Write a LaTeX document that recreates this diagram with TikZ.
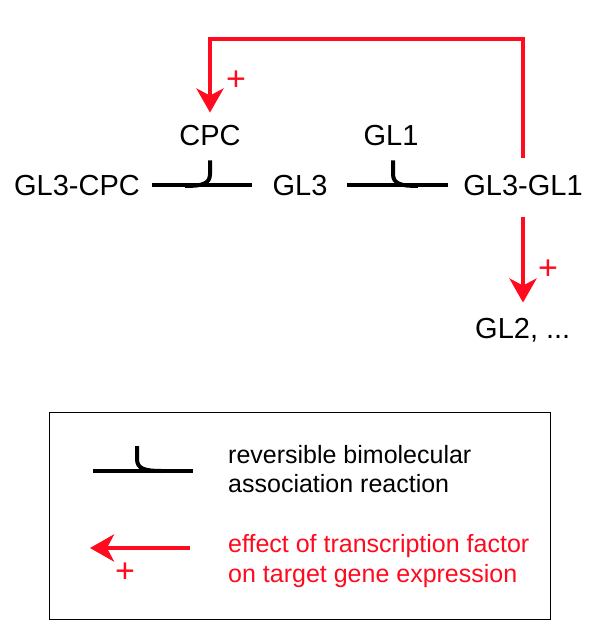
\documentclass[tikz,border=0pt]{standalone}
\usepackage{fontspec}
\setmainfont{Liberation Sans}
\usetikzlibrary{positioning,calc,arrows.meta}
\definecolor{actred}{RGB}{255,10,30}
\tikzset{>={Stealth[length=24pt,width=27pt,inset=7pt]}}
\tikzset{
  spec/.style={inner sep=2pt,font=\fontsize{29}{35}\selectfont,anchor=base},
  keytext/.style={inner sep=0pt,font=\fontsize{25}{30}\selectfont,anchor=base west},
  rxn/.style={line width=4pt},
  act/.style={line width=4.5pt,actred,->},
  plus/.style={actred,font=\fontsize{34}{40}\selectfont,inner sep=0pt}
}

\begin{document}
\begin{tikzpicture}[x=1pt,y=-1pt]
\useasboundingbox (0,0) rectangle (600,639);
% species
\node[spec] (gl3cpc) at (77,195) {GL3-CPC};
\node[spec] (gl3) at (300,195) {GL3};
\node[spec] (gl3gl1) at (523,195) {GL3-GL1};
\node[spec] (cpc) at (210,146) {CPC};
\node[spec] (gl1) at (391,146) {GL1};
\node[spec,anchor=base west] (gl2) at (473,338) {GL2, ...};
% association reactions
\draw[rxn] ([xshift=10pt]gl3cpc.east) -- ([xshift=-18pt]gl3.west);
\draw[rxn] ([xshift=17pt]gl3.east) -- ([xshift=-13pt]gl3gl1.west);
\draw[rxn] ([yshift=-12pt]cpc.south) -- ++(0,13.5) .. controls +(0,10) and +(17,0) .. ++(-25,12);
\draw[rxn] ([xshift=2pt,yshift=-12pt]gl1.south) -- ++(0,13.5) .. controls +(0,10) and +(-17,0) .. ++(25,12);
% transcriptional effects
\coordinate (top) at (0,39);
\draw[act,shorten <=15pt,shorten >=11pt] (gl3gl1.north) -- (gl3gl1.north |- top) -| (cpc.north);
\node[plus] (p1) at (236,81) {+};
\draw[act,shorten <=20pt,shorten >=13pt] (gl3gl1.south) -- (gl3gl1.south |- gl2.north);
\node[plus] (p2) at (548,270) {+};
% legend
\draw[line width=1pt] (49,412) rectangle (550,619);
\coordinate (r1) at (93,471);
\coordinate (r2) at (193,471);
\draw[rxn] (r1) -- (r2);
\draw[rxn] (137,446) -- ++(0,13) .. controls +(0,10) and +(-17,0) .. ++(25,12);
\coordinate (a1) at (190,548);
\coordinate (a2) at (90,548);
\draw[act] (a1) -- (a2);
\node[plus] (p3) at (125,573) {+};
\node[keytext] (key1) at (228,463) {reversible bimolecular};
\node[keytext] (key2) at (228,492) {association reaction};
\node[keytext,actred] (key3) at (228,552) {effect of transcription factor};
\node[keytext,actred] (key4) at (228,582) {on target gene expression};
\end{tikzpicture}
\end{document}
